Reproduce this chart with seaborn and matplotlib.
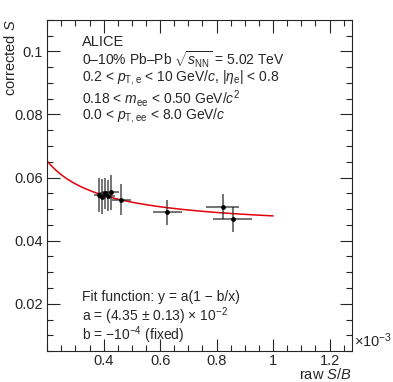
import numpy as np
import pandas as pd
import matplotlib
matplotlib.use("Agg")
import matplotlib.pyplot as plt
import seaborn as sb
from matplotlib.ticker import MultipleLocator

# --------------- data (raw S/B in units of 1e-3) --------------- #
raw_sb = [0.385, 0.395, 0.405, 0.415, 0.425, 0.463, 0.626, 0.821, 0.857]
raw_sb_err = [0.020, 0.015, 0.020, 0.025, 0.030, 0.035, 0.050, 0.057, 0.068]
corr_s = [0.0545, 0.0540, 0.0550, 0.0543, 0.0553, 0.0530, 0.0490, 0.0508, 0.0468]
corr_s_err = [0.0055, 0.0055, 0.0050, 0.0050, 0.0055, 0.0050, 0.0040, 0.0040, 0.0040]

fit_a = 4.35e-2
fit_b = -1e-4
fit_range = [0.2, 1.0]

sb.set_style("ticks")
plt.rcParams["font.family"] = ["Liberation Sans", "DejaVu Sans"]
plt.rcParams["mathtext.fontset"] = "custom"
plt.rcParams["mathtext.rm"] = "Liberation Sans"
plt.rcParams["mathtext.it"] = "Liberation Sans:italic"
plt.rcParams["mathtext.bf"] = "Liberation Sans:bold"

fig = plt.figure(figsize=(3.93, 3.82), dpi=100)
ax = fig.add_axes([0.12, 0.081, 0.776, 0.867])

# fit curve y = a(1 - b/x), x given in 1e-3 units
xf = np.linspace(fit_range[0], fit_range[1], 200)
fit_df = pd.DataFrame({"x": xf, "y": fit_a * (1 - fit_b / (xf * 1e-3))})
sb.lineplot(data=fit_df, x="x", y="y", color="#e3000b", lw=1.1, ax=ax)

df = pd.DataFrame({"x": raw_sb, "y": corr_s})
ax.errorbar(raw_sb, corr_s, xerr=raw_sb_err, yerr=corr_s_err, fmt="none",
            ecolor="#202020", elinewidth=1.1, capsize=0, alpha=0.8)
sb.scatterplot(data=df, x="x", y="y", color="black", s=12, marker="o",
               edgecolor="black", linewidth=0, ax=ax, zorder=5)

ax.set_xlim(0.2, 1.28)
ax.set_ylim(0.005, 0.11)
ax.xaxis.set_major_locator(MultipleLocator(0.2))
ax.xaxis.set_minor_locator(MultipleLocator(0.05))
ax.yaxis.set_major_locator(MultipleLocator(0.02))
ax.yaxis.set_minor_locator(MultipleLocator(0.005))
ax.set_xticks([0.4, 0.6, 0.8, 1.0, 1.2])
ax.set_xticklabels(["0.4", "0.6", "0.8", "1", "1.2"])
ax.set_yticks([0.02, 0.04, 0.06, 0.08, 0.1])
ax.set_yticklabels(["0.02", "0.04", "0.06", "0.08", "0.1"])
ax.tick_params(which="both", direction="in", top=True, right=True,
               labelsize=10.5, width=0.8, pad=3)
ax.tick_params(axis="x", pad=2)
ax.tick_params(which="major", length=9)
ax.tick_params(which="minor", length=4.5)
for sp in ax.spines.values():
    sp.set_linewidth(0.8)

ax.set_xlabel("")
ax.set_ylabel("")
fig.text(0.008, 0.948, "corrected $S$", rotation=90, ha="left", va="top",
         fontsize=10.5)
fig.text(0.896, 0.0, "raw $S/B$", ha="right", va="bottom", fontsize=10.5)
fig.text(0.902, 0.083, r"$\times10^{-3}$", ha="left", va="bottom", fontsize=10.5)

tx = 0.115
fs = 10
ax.text(tx, 0.933, "ALICE", transform=ax.transAxes, fontsize=10.5, va="center")
ax.text(tx, 0.879, r"0–10% Pb–Pb $\sqrt{s_{\rm NN}}$ = 5.02 TeV",
        transform=ax.transAxes, fontsize=fs, va="center")
ax.text(tx, 0.826, r"0.2 < $p_{\rm T,e}$ < 10 GeV/$c$, |$\eta_{\rm e}$| < 0.8",
        transform=ax.transAxes, fontsize=fs, va="center")
ax.text(tx, 0.762, r"0.18 < $m_{\rm ee}$ < 0.50 GeV/$c^2$",
        transform=ax.transAxes, fontsize=fs, va="center")
ax.text(tx, 0.712, r"0.0 < $p_{\rm T,ee}$ < 8.0 GeV/$c$",
        transform=ax.transAxes, fontsize=fs, va="center")

ax.text(tx, 0.163, "Fit function: y = a(1 − b/x)", transform=ax.transAxes,
        fontsize=fs, va="center")
ax.text(tx, 0.106, r"a = (4.35 $\pm$ 0.13) $\times$ 10$^{-2}$",
        transform=ax.transAxes, fontsize=fs, va="center")
ax.text(tx, 0.048, r"b = −10$^{-4}$ (fixed)", transform=ax.transAxes,
        fontsize=fs, va="center")

fig.savefig("out.png", dpi=100)
